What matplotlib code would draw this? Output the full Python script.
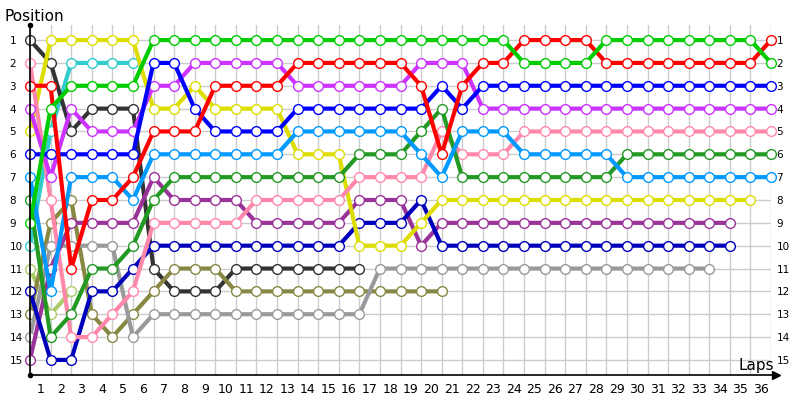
import matplotlib
matplotlib.use("Agg")
import matplotlib.pyplot as plt

# position of each car at the end of every lap (lap 0 = grid)
pos_darkgray = [1, 2, 5, 4, 4, 4, 11, 12, 12, 12, 11, 11, 11, 11, 11, 11, 11]
pos_pink = [2, 8, 14, 14, 13, 12, 9, 9, 9, 9, 9, 8, 8, 8, 8, 8, 7, 7, 7, 7, 5, 6, 6, 6,
            5, 5, 5, 5, 5, 5, 5, 5, 5, 5, 5, 5, 5]
pos_red = [3, 3, 11, 8, 8, 7, 5, 5, 5, 3, 3, 3, 3, 2, 2, 2, 2, 2, 2, 3, 6, 3, 2, 2,
           1, 1, 1, 1, 2, 2, 2, 2, 2, 2, 2, 2, 1]
pos_violet = [4, 7, 4, 5, 5, 5, 3, 3, 2, 2, 2, 2, 2, 3, 3, 3, 3, 3, 3, 2, 2, 2, 4, 4,
              4, 4, 4, 4, 4, 4, 4, 4, 4, 4, 4, 4, 4]
pos_yellow = [5, 1, 1, 1, 1, 1, 4, 4, 3, 4, 4, 4, 4, 6, 6, 6, 10, 10, 10, 9, 8, 8, 8, 8,
              8, 8, 8, 8, 8, 8, 8, 8, 8, 8, 8, 8]
pos_blue = [6, 6, 6, 6, 6, 6, 2, 2, 4, 5, 5, 5, 5, 4, 4, 4, 4, 4, 4, 4, 3, 4, 3, 3,
            3, 3, 3, 3, 3, 3, 3, 3, 3, 3, 3, 3, 3]
pos_lightblue = [7, 12, 7, 7, 7, 8, 6, 6, 6, 6, 6, 6, 6, 5, 5, 5, 5, 5, 5, 6, 7, 5, 5, 5,
                 6, 6, 6, 6, 6, 7, 7, 7, 7, 7, 7, 7, 7]
pos_darkgreen = [8, 14, 13, 11, 11, 10, 8, 7, 7, 7, 7, 7, 7, 7, 7, 7, 6, 6, 6, 5, 4, 7, 7, 7,
                 7, 7, 7, 7, 7, 6, 6, 6, 6, 6, 6, 6, 6]
pos_green = [9, 4, 3, 3, 3, 3, 1, 1, 1, 1, 1, 1, 1, 1, 1, 1, 1, 1, 1, 1, 1, 1, 1, 1,
             2, 2, 2, 2, 1, 1, 1, 1, 1, 1, 1, 1, 2]
pos_cyan = [10, 5, 2, 2, 2, 2]
pos_yellowgreen = [11, 13, 12]
pos_darkblue = [12, 15, 15, 12, 12, 11, 10, 10, 10, 10, 10, 10, 10, 10, 10, 10, 9, 9, 9, 8,
                10, 10, 10, 10, 10, 10, 10, 10, 10, 10, 10, 10, 10, 10, 10]
pos_olive = [13, 9, 8, 13, 14, 13, 12, 11, 11, 11, 12, 12, 12, 12, 12, 12, 12, 12, 12, 12, 12]
pos_gray = [14, 10, 10, 10, 10, 14, 13, 13, 13, 13, 13, 13, 13, 13, 13, 13, 13,
            11, 11, 11, 11, 11, 11, 11, 11, 11, 11, 11, 11, 11, 11, 11, 11, 11]
pos_darkpurple = [15, 11, 9, 9, 9, 9, 7, 8, 8, 8, 8, 9, 9, 9, 9, 9, 8, 8, 8, 10,
                  9, 9, 9, 9, 9, 9, 9, 9, 9, 9, 9, 9, 9, 9, 9]

n_laps = 36
n_pos = 15

cars = [
    (pos_cyan, '#33cccc'),
    (pos_yellowgreen, '#aacc66'),
    (pos_darkgray, '#333333'),
    (pos_olive, '#888844'),
    (pos_gray, '#999999'),
    (pos_darkpurple, '#993399'),
    (pos_darkblue, '#0000bb'),
    (pos_yellow, '#dddd00'),
    (pos_pink, '#ff88aa'),
    (pos_darkgreen, '#229922'),
    (pos_lightblue, '#0099ff'),
    (pos_violet, '#cc33ff'),
    (pos_blue, '#0000ff'),
    (pos_red, '#ff0000'),
    (pos_green, '#00cc00'),
]

fig = plt.figure(figsize=(8, 4), dpi=100)
ax = fig.add_axes([30 / 800, 25 / 400, 741 / 800, 350 / 400])
ax.set_xlim(0, n_laps)
ax.set_ylim(15.66, 0.34)

for pos, c in cars:
    ax.plot(range(len(pos)), pos, '-o', color=c, lw=3, ms=7,
            mfc='white', mec=c, mew=1, zorder=3, clip_on=False)

# grid: lines on laps and positions, lap labels between lines
ax.set_xticks(range(n_laps + 1))
ax.set_xticklabels([])
ax.set_xticks([k - 0.5 for k in range(1, n_laps + 1)], minor=True)
ax.set_xticklabels([str(k) for k in range(1, n_laps + 1)], minor=True, fontsize=9)
ax.tick_params(axis='x', which='both', length=0)
ax.tick_params(axis='x', which='minor', pad=6)
ax.grid(True, axis='x', which='major', color='#cccccc', lw=1, zorder=0)

ax.set_yticks(range(1, n_pos + 1))
ax.set_yticklabels([str(p) for p in range(1, n_pos + 1)], fontsize=7.5)
ax.tick_params(axis='y', length=0, labelright=True, pad=4)
for t in ax.yaxis.get_major_ticks():
    t.label1.set_horizontalalignment('left')
    t.label1.set_x(-15 / 741)
ax.grid(True, axis='y', color='#cccccc', lw=1, zorder=0)

for s in ax.spines.values():
    s.set_visible(False)

# axis lines with arrow / dots
ax.plot([0, 0], [15.66, 0.34], color='black', lw=1.2, clip_on=False, zorder=4)
ax.plot([0, 36.35], [15.66, 15.66], color='black', lw=1.2, clip_on=False, zorder=4)
ax.plot([0, 0], [0.34, 15.66], 'o', color='black', ms=3, clip_on=False, zorder=4)
ax.plot([36.25], [15.66], '>', color='black', ms=6, clip_on=False, zorder=4)

fig.text(5 / 800, 1 - 21 / 400, 'Position', fontsize=11, ha='left', va='baseline')
fig.text(774 / 800, 1 - 370 / 400, 'Laps', fontsize=11, ha='right', va='baseline')

fig.savefig('out.png', dpi=100, facecolor='white')
